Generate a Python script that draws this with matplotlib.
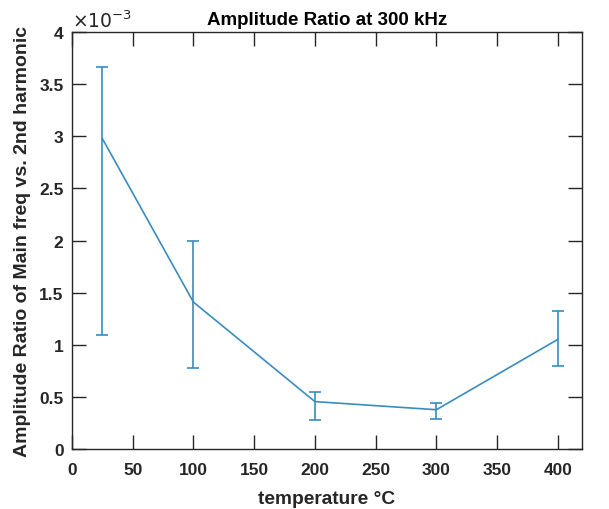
import matplotlib
matplotlib.use('Agg')
import matplotlib.pyplot as plt

# data
temperature = [25, 100, 200, 300, 400]
ratio = [2.98e-3, 1.41e-3, 0.455e-3, 0.377e-3, 1.052e-3]
err_low = [1.09e-3, 0.774e-3, 0.278e-3, 0.291e-3, 0.793e-3]
err_high = [3.66e-3, 1.995e-3, 0.544e-3, 0.444e-3, 1.32e-3]

plt.rcParams['font.family'] = ['Liberation Sans', 'DejaVu Sans']

lower = [r - lo for r, lo in zip(ratio, err_low)]
upper = [hi - r for r, hi in zip(ratio, err_high)]

fig = plt.figure(figsize=(6.09, 5.10), dpi=100)
ax = fig.add_axes([0.118, 0.1176, 0.838, 0.8176])

ax.errorbar(temperature, ratio, yerr=[lower, upper], color='#3a8cbf',
            linewidth=1.2, elinewidth=1.2, capsize=4.3, capthick=1.2)

ax.set_xlim(0, 420)
ax.set_ylim(0, 4e-3)
ax.set_xticks(range(0, 401, 50))
ax.set_yticks([i * 0.5e-3 for i in range(9)])
ax.set_yticklabels(['0', '0.5', '1', '1.5', '2', '2.5', '3', '3.5', '4'])

ax.tick_params(direction='in', length=10, width=1, colors='#262626',
               top=True, right=True, labelsize=12.5, pad=6)
ax.tick_params(axis='x', pad=9)
for lab in ax.get_xticklabels() + ax.get_yticklabels():
    lab.set_fontweight('bold')
for s in ax.spines.values():
    s.set_color('#262626')
    s.set_linewidth(1)

ax.set_xlabel('temperature °C', fontsize=13.8, fontweight='bold', color='#262626',
              labelpad=10)
ax.set_ylabel('Amplitude Ratio of Main freq vs. 2nd harmonic', fontsize=14,
              fontweight='bold', color='#262626', labelpad=6)
ax.set_title('Amplitude Ratio at 300 kHz', fontsize=13.5, fontweight='bold',
             color='#000000', pad=6)
ax.text(0.0, 1.003, r'$\times10^{-3}$', transform=ax.transAxes,
        fontsize=13.5, color='#262626', va='bottom', ha='left')

fig.savefig('out.png', dpi=100)
